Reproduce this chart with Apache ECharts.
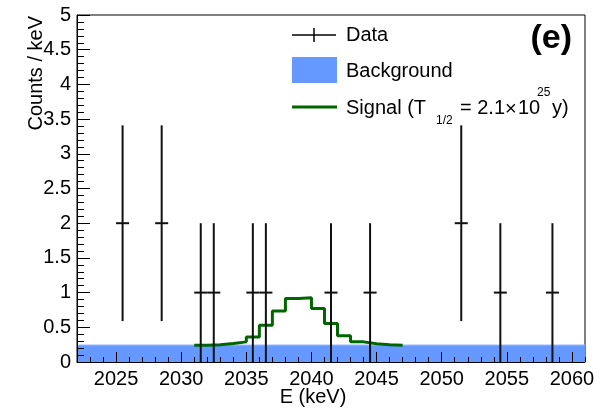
<!DOCTYPE html>
<html>
<head>
<meta charset="utf-8">
<script src="https://cdn.jsdelivr.net/npm/echarts@6/dist/echarts.min.js"></script>
<style>
  html, body { margin: 0; padding: 0; background: #fff; }
  #chart { width: 604px; height: 412px; }
</style>
</head>
<body>
<div id="chart"></div>
<script>
// Energy window (keV) and count-rate axis
const energyMin = 2022;
const energyMax = 2061;
const countMin = 0;
const countMax = 5;
const countStep = 0.5;
const energyMajorTicks = [2025, 2030, 2035, 2040, 2045, 2050, 2055, 2060];
const energyMinorTicks = [2022, 2023, 2024, 2025, 2026, 2027, 2028, 2029, 2030, 2031,
  2032, 2033, 2034, 2035, 2036, 2037, 2038, 2039, 2040, 2041, 2042, 2043, 2044, 2045,
  2046, 2047, 2048, 2049, 2050, 2051, 2052, 2053, 2054, 2055, 2056, 2057, 2058, 2059,
  2060, 2061];

// Observed events: bin centres (keV), counts / keV and their uncertainties
const dataEnergy = [2025.5, 2028.5, 2031.5, 2032.5, 2035.5, 2036.5, 2041.5, 2044.5, 2051.5, 2054.5, 2058.5];
const dataCounts = [2, 2, 1, 1, 1, 1, 1, 1, 2, 1, 1];
const dataErrors = [1.41, 1.41, 1, 1, 1, 1, 1, 1, 1.41, 1, 1];
const binHalfWidth = 0.5;

// Flat background level (counts / keV)
const backgroundLevel = 0.245;

// Signal + background expectation, 1 keV bins (low edges) from 2031 to 2047 keV
const signalEdges = [2031, 2032, 2033, 2034, 2035, 2036, 2037, 2038, 2039, 2040,
  2041, 2042, 2043, 2044, 2045, 2046, 2047];
const signalCounts = [0.24, 0.25, 0.265, 0.29, 0.36, 0.53, 0.735, 0.915, 0.925, 0.77,
  0.555, 0.38, 0.29, 0.262, 0.25, 0.243];

const FONT = '"Liberation Sans", Arial, Helvetica, sans-serif';
const BLUE = '#6699ff';
const GREEN = '#006600';

// step histogram: each bin value starts at its low edge, last value closes at the final edge
const signalSeriesData = signalEdges.map((e, i) =>
  [e, signalCounts[Math.min(i, signalCounts.length - 1)]]);

const pointData = dataEnergy.map((e, i) => [e, dataCounts[i], dataErrors[i]]);

const chart = echarts.init(document.getElementById('chart'), null, { renderer: 'canvas' });

const txt = (text, x, y, size, extra, rotation) => ({
  type: 'text', x, y, z: 10, rotation: rotation || 0,
  style: Object.assign({ text, font: size + 'px ' + FONT, fill: '#000', verticalAlign: 'middle' }, extra || {})
});

chart.setOption({
  animation: false,
  backgroundColor: '#fff',
  grid: {
    left: 77, right: 19, top: 15, bottom: 50,
    show: true, borderColor: '#000', borderWidth: 1, backgroundColor: 'transparent'
  },
  xAxis: [
    {
      type: 'value', min: energyMin, max: energyMax, position: 'bottom', z: 5,
      axisLine: { show: true, onZero: false, lineStyle: { color: '#000', width: 1 } },
      axisTick: { show: true, inside: true, length: 10, customValues: energyMajorTicks,
        lineStyle: { color: '#000', width: 1 } },
      axisLabel: { show: true, customValues: energyMajorTicks, color: '#000',
        fontFamily: FONT, fontSize: 20, margin: 7, formatter: v => String(v) },
      splitLine: { show: false }
    },
    {
      type: 'value', min: energyMin, max: energyMax, position: 'bottom', z: 5,
      axisLine: { show: false },
      axisTick: { show: true, inside: true, length: 5, customValues: energyMinorTicks,
        lineStyle: { color: '#000', width: 1 } },
      axisLabel: { show: false },
      splitLine: { show: false }
    }
  ],
  yAxis: {
    type: 'value', min: countMin, max: countMax, interval: countStep, z: 5,
    axisLine: { show: true, onZero: false, lineStyle: { color: '#000', width: 1 } },
    axisTick: { show: true, inside: true, length: 13, lineStyle: { color: '#000', width: 1 } },
    minorTick: { show: true, splitNumber: 5, length: 7, lineStyle: { color: '#000', width: 1 } },
    axisLabel: { color: '#000', fontFamily: FONT, fontSize: 20, margin: 6,
      formatter: v => String(v) },
    splitLine: { show: false }
  },
  series: [
    {
      name: 'Background', type: 'line', z: 1, xAxisIndex: 0,
      data: [[energyMin, backgroundLevel], [energyMax, backgroundLevel]],
      symbol: 'none', silent: true,
      lineStyle: { color: '#9dbcff', width: 1 },
      areaStyle: { color: BLUE, opacity: 1 }
    },
    {
      name: 'Signal', type: 'line', z: 2, xAxisIndex: 0,
      step: 'end', data: signalSeriesData,
      symbol: 'none', silent: true,
      lineStyle: { color: GREEN, width: 3 }
    },
    {
      name: 'Data', type: 'custom', z: 3, xAxisIndex: 0,
      data: pointData,
      renderItem: (params, api) => {
        const x = api.value(0), y = api.value(1), err = api.value(2);
        const left = api.coord([x - binHalfWidth, y]);
        const right = api.coord([x + binHalfWidth, y]);
        const top = api.coord([x, y + err]);
        const bottom = api.coord([x, Math.max(y - err, countMin)]);
        const style = { stroke: '#111', lineWidth: 2 };
        return {
          type: 'group',
          children: [
            { type: 'line', shape: { x1: left[0], y1: left[1], x2: right[0], y2: right[1] }, style },
            { type: 'line', shape: { x1: top[0], y1: top[1], x2: bottom[0], y2: bottom[1] }, style }
          ]
        };
      }
    }
  ],
  graphic: [
    // axis titles (y title reads bottom to top, ending at the top of the frame)
    txt('Counts / keV', 36, 16, 20, { align: 'right' }, Math.PI / 2),
    txt('E (keV)', 313, 397, 20, { align: 'center' }),
    // panel tag
    { type: 'text', x: 572, y: 39, z: 10,
      style: { text: '(e)', font: 'bold 34px ' + FONT, fill: '#000',
        align: 'right', verticalAlign: 'middle' } },
    // legend: data
    { type: 'line', z: 10, shape: { x1: 292, y1: 35, x2: 336, y2: 35 },
      style: { stroke: '#000', lineWidth: 1.5 } },
    { type: 'line', z: 10, shape: { x1: 314, y1: 28, x2: 314, y2: 42 },
      style: { stroke: '#000', lineWidth: 1.5 } },
    txt('Data', 346, 35, 20),
    // legend: background
    { type: 'rect', z: 10, shape: { x: 292, y: 57, width: 45, height: 26 },
      style: { fill: BLUE } },
    txt('Background', 346, 71, 20),
    // legend: signal
    { type: 'line', z: 10, shape: { x1: 292, y1: 107, x2: 337, y2: 107 },
      style: { stroke: GREEN, lineWidth: 3 } },
    txt('Signal (T', 346, 108, 20),
    txt('1/2', 436, 121, 12),
    txt('= 2.1', 460, 108, 20),
    txt('\u00d7', 505, 109, 20),
    txt('10', 518, 108, 20),
    txt('25', 537, 93, 12),
    txt('y)', 552, 108, 20)
  ]
});
</script>
</body>
</html>
